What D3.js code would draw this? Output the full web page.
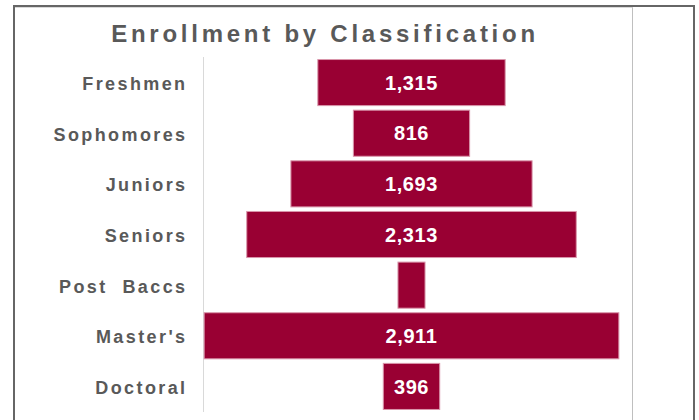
<!DOCTYPE html>
<html><head><meta charset="utf-8">
<script src="https://cdn.jsdelivr.net/npm/d3@7"></script>
<style>
html,body{margin:0;padding:0;background:#fff;}
svg{display:block;font-family:"Liberation Sans",Arial,sans-serif;}
</style></head>
<body>
<svg id="chart" width="699" height="420"></svg>
<script>
const title = "Enrollment by Classification";
const categories = ["Freshmen","Sophomores","Juniors","Seniors","Post  Baccs","Master's","Doctoral"];
const values = [1315, 816, 1693, 2313, 190, 2911, 396];
const showLabel = [true, true, true, true, false, true, true];

const svg = d3.select("#chart");
const W = 699, H = 420;

// outer frame
svg.append("rect").attr("x",14).attr("y",6).attr("width",680).attr("height",430)
  .attr("fill","#fff").attr("stroke","#666").attr("stroke-width",2);
// chart area right edge
svg.append("line").attr("x1",632.5).attr("x2",632.5).attr("y1",7).attr("y2",H)
  .attr("stroke","#bfbfbf").attr("stroke-width",1);
svg.append("line").attr("x1",15).attr("x2",632.5).attr("y1",7.5).attr("y2",7.5)
  .attr("stroke","#d9d9d9").attr("stroke-width",1);

const xMax = 1460;
const x = d3.scaleLinear().domain([-xMax, xMax]).range([203.5, 619.5]);
const y = d3.scaleBand().domain(categories).range([57, 412]).paddingInner(0.09).paddingOuter(0.05);

// title
svg.append("text").attr("x",325).attr("y",42).attr("text-anchor","middle")
  .attr("font-size",24).attr("font-weight","bold").attr("fill","#595959")
  .style("letter-spacing","3.75px").style("white-space","pre").text(title);

// axis line
svg.append("line").attr("x1",203.5).attr("x2",203.5).attr("y1",57).attr("y2",412)
  .attr("stroke","#d9d9d9").attr("stroke-width",1);

// category labels
const yAxis = d3.axisLeft(y).tickSize(0).tickPadding(16);
const gAxis = svg.append("g").attr("transform","translate(203.5,0)").call(yAxis);
gAxis.select(".domain").remove();
gAxis.selectAll("text").attr("font-size",18).attr("font-weight","bold")
  .attr("fill","#595959").attr("font-family","Liberation Sans, Arial, sans-serif")
  .attr("dy","0.42em")
  .style("letter-spacing","2.4px").style("white-space","pre");

// bars
svg.append("g").selectAll("rect").data(values).join("rect")
  .attr("x", d => x(-d/2))
  .attr("width", d => x(d/2) - x(-d/2))
  .attr("y", (d,i) => y(categories[i]))
  .attr("height", y.bandwidth())
  .attr("fill","#990033")
  .attr("stroke","#d996ab").attr("stroke-width",1);

// value labels
const fmt = d3.format(",");
svg.append("g").selectAll("text").data(values.map((v,i)=>({v,i}))).join("text")
  .filter(d => showLabel[d.i])
  .attr("x", x(0))
  .attr("y", d => y(categories[d.i]) + y.bandwidth()/2)
  .attr("dy","0.36em")
  .attr("text-anchor","middle")
  .attr("font-size",20).attr("font-weight","bold").attr("fill","#fff")
  .style("letter-spacing","0.6px")
  .text(d => fmt(d.v));
</script>
</body></html>
